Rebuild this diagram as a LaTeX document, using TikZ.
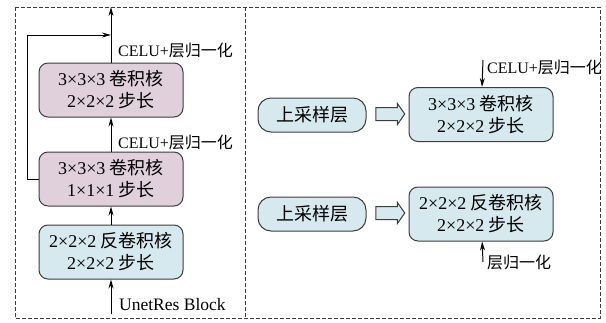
\documentclass[tikz,border=0pt]{standalone}
\usepackage{fontspec}
\setmainfont{Liberation Serif}
\newfontfamily\cjk{Noto Sans CJK SC}
\usetikzlibrary{arrows.meta}
\usetikzlibrary{shapes.arrows}

\definecolor{boxpurple}{RGB}{224,208,219}
\definecolor{boxblue}{RGB}{214,233,238}
\definecolor{edgegray}{RGB}{60,60,60}

\tikzset{
  convbox/.style={draw=edgegray, line width=1pt, rounded corners=9pt,
    minimum width=144pt, minimum height=54pt, align=center,
    font=\fontsize{18}{22}\selectfont},
  upbox/.style={draw=edgegray, line width=1pt, rounded corners=13pt,
    fill=boxblue, minimum width=108pt, minimum height=34pt,
    font=\fontsize{18}{22}\selectfont},
  lbl/.style={font=\fontsize{16}{18}\selectfont, inner sep=1pt, anchor=west},
  hollow/.style={single arrow, draw=edgegray, line width=1pt, fill=boxblue,
    minimum height=29pt, inner sep=6pt, single arrow head extend=4pt,
    single arrow tip angle=110},
  flow/.style={line width=1pt, -{Stealth[length=9pt,width=5pt]}}
}

\begin{document}
\begin{tikzpicture}[x=1pt, y=-1pt]
      \useasboundingbox (0,0) rectangle (606,322);
      \draw[edgegray, line width=0.9pt, dash pattern=on 4pt off 2pt]
            (15,7) rectangle (600,318);
      \draw[edgegray, line width=0.9pt, dash pattern=on 4pt off 2pt]
            (245,7) -- (245,318);

      % left column
      \node[convbox, fill=boxpurple] (conv1) at (111, 90)
            {3×3×3 {\cjk 卷积核}\\2×2×2 {\cjk 步长}};
      \node[convbox, fill=boxpurple] (conv2) at (111, 179)
            {3×3×3 {\cjk 卷积核}\\1×1×1 {\cjk 步长}};
      \node[convbox, fill=boxblue] (deconv) at (111, 252)
            {2×2×2 {\cjk 反卷积核}\\2×2×2 {\cjk 步长}};

      \coordinate (out) at (111, 7);
      \coordinate (in)  at (111, 314);
      \coordinate (skipa) at (27, 179);
      \coordinate (skipb) at (27, 35);
      \coordinate (skipc) at (111, 35);

      \draw[flow] (conv1) to (out);
      \draw[flow] (conv2) to (conv1);
      \draw[flow] (deconv) to (conv2);
      \draw[flow] (in) to (deconv);
      \draw[flow] (conv2.west) to (skipa) to (skipb) to (skipc);

      \node[lbl] (act1) at (117, 50) {CELU+{\cjk 层归一化}};
      \node[lbl] (act2) at (117, 142) {CELU+{\cjk 层归一化}};
      \node[lbl, font=\fontsize{17.5}{20}\selectfont] (src) at (118, 305)
            {UnetRes Block};

      % right column
      \node[upbox] (up1) at (312, 115) {\cjk 上采样层};
      \node[convbox, fill=boxblue] (conv3) at (481, 114.5)
            {3×3×3 {\cjk 卷积核}\\2×2×2 {\cjk 步长}};
      \node[hollow] (h1) at (388, 114) {};

      \node[upbox] (up2) at (312, 214) {\cjk 上采样层};
      \node[convbox, fill=boxblue] (deconv2) at (481, 214)
            {2×2×2 {\cjk 反卷积核}\\2×2×2 {\cjk 步长}};
      \node[hollow] (h2) at (388, 213) {};

      \coordinate (act3in) at (483, 60);
      \coordinate (norm2in) at (483, 262);
      \draw[flow] (act3in) to (conv3);
      \draw[flow] (norm2in) to (deconv2);
      \node[lbl] (act3)  at (486, 67) {CELU+{\cjk 层归一化}};
      \node[lbl] (norm2) at (486, 262) {\cjk 层归一化};
    \end{tikzpicture}
\end{document}
